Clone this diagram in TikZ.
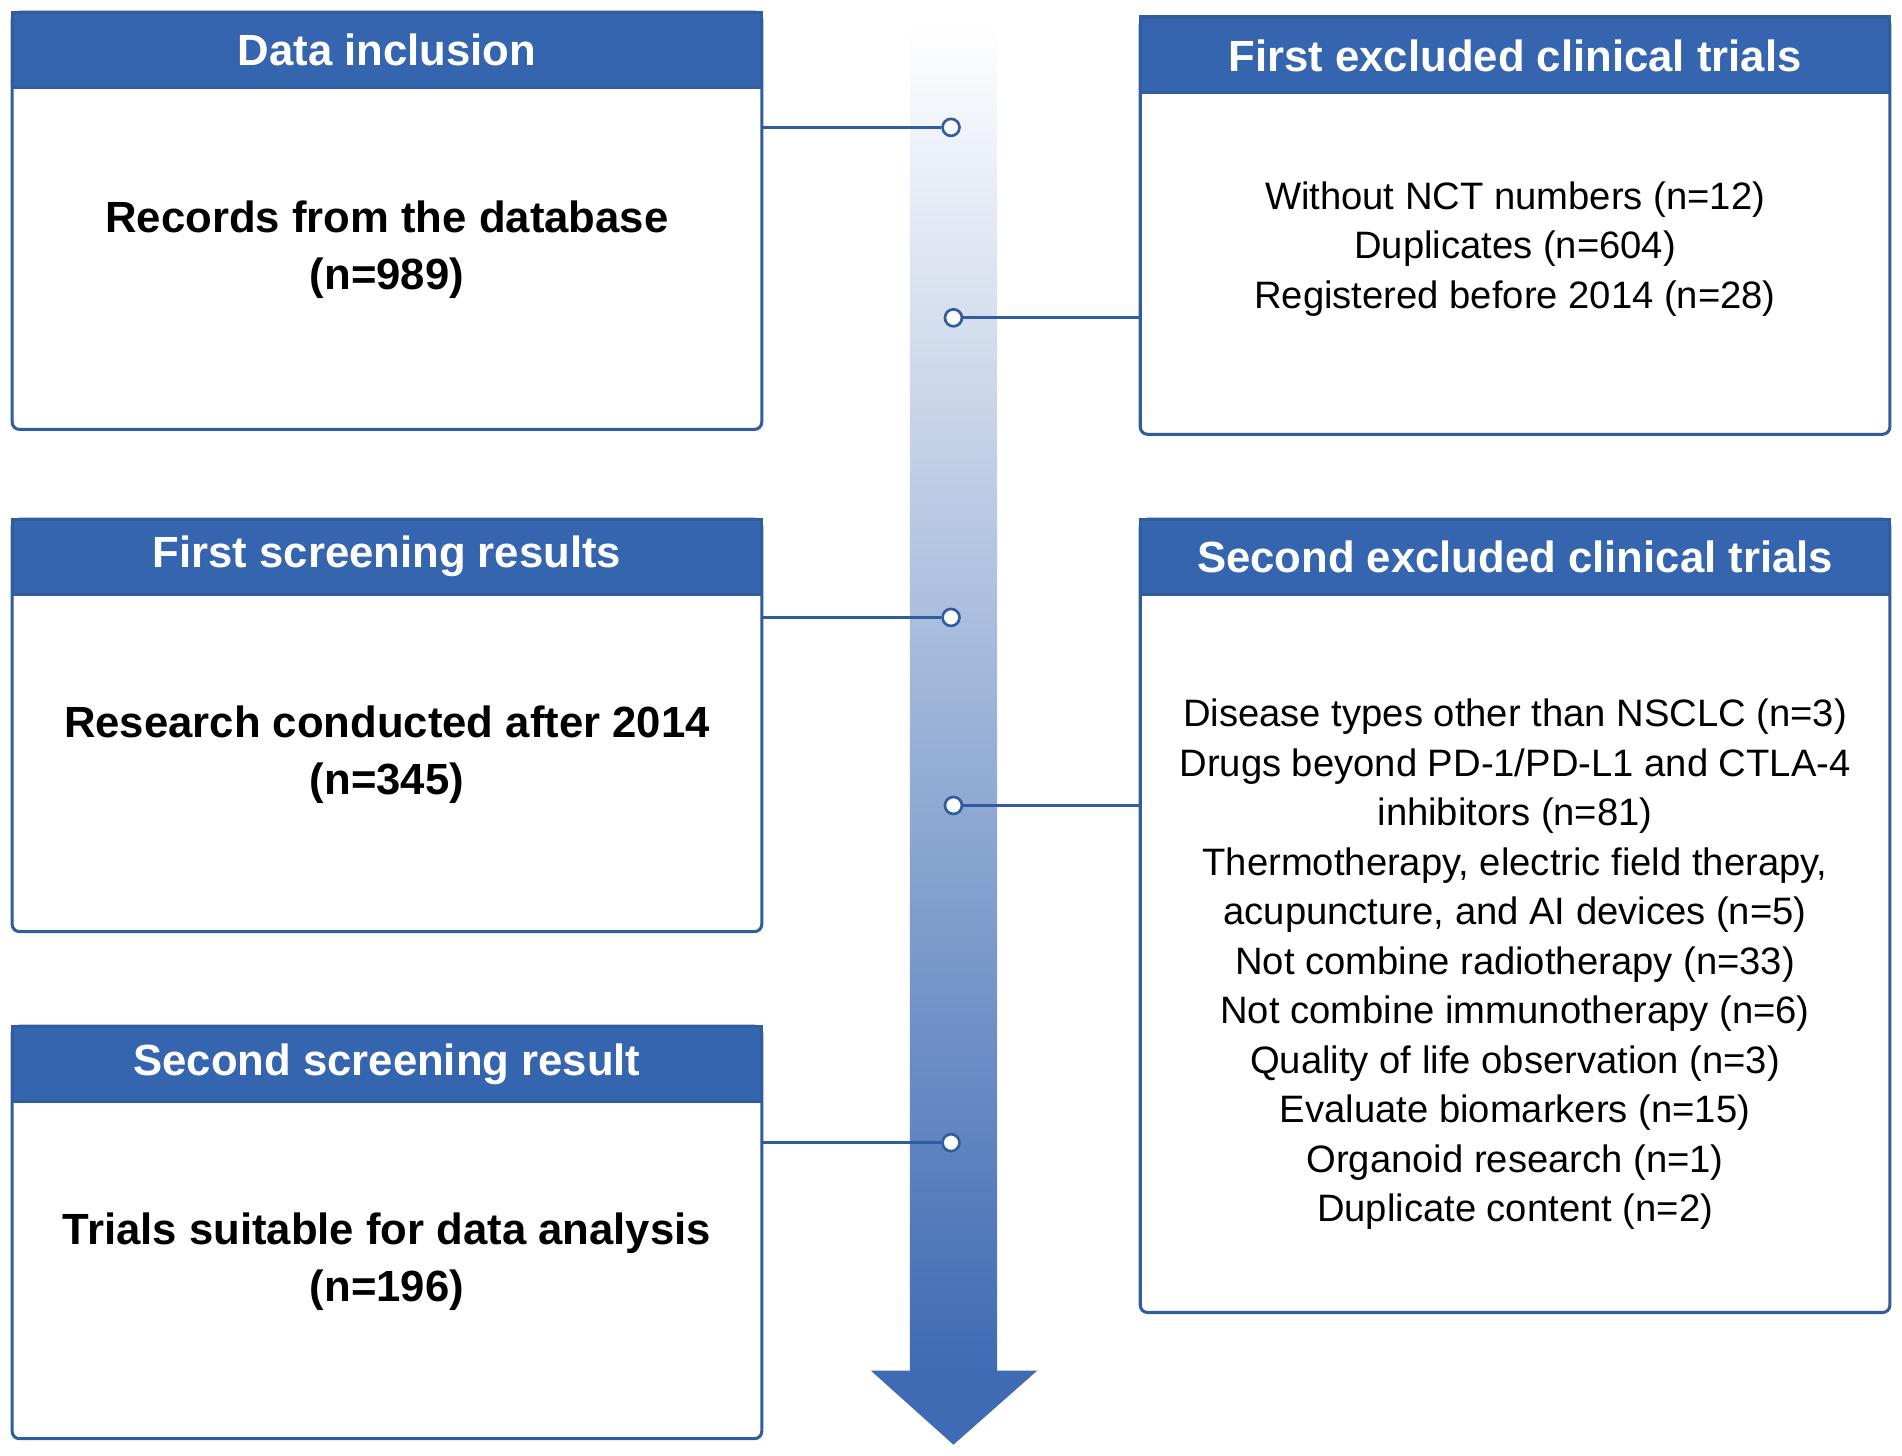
\documentclass[tikz,border=0pt]{standalone}
\usepackage{fontspec}
\setmainfont{Liberation Sans}
\begin{document}
\begin{tikzpicture}[x=1pt,y=-1pt,
  bx/.style={draw=boxblue,line width=2.5pt,rounded corners=6pt,fill=white},
  hd/.style={fill=hdblue,draw=boxblue,line width=2.5pt},
  hdt/.style={text=white,font=\fontsize{36}{40}\selectfont\bfseries},
  bt/.style={align=center,font=\fontsize{36}{47}\selectfont\bfseries},
  lt/.style={align=center,font=\fontsize{31.5}{40.8}\selectfont},
  ln/.style={draw=boxblue,line width=2.2pt},
  dot/.style={circle,draw=boxblue,line width=2.2pt,fill=white,minimum size=14pt,inner sep=0pt}]
\definecolor{boxblue}{HTML}{2F5D9E}
\definecolor{hdblue}{HTML}{3565AE}
\definecolor{arr}{HTML}{3E6BB3}
\useasboundingbox (0,0) rectangle (1568,1200);
% arrow
\shade[top color=white,bottom color=arr] (750,20) rectangle (822,1131);
\fill[arr] (718,1130) -- (855,1130) -- (786,1191) -- cycle;
% left boxes
\foreach \t/\b/\n in {10/354/a,428/768/b,846/1186/c}{
  \draw[bx] (10,\t) rectangle (628,\b);
  \fill[hd] (10,\t) rectangle (628,\t+62);
  \coordinate (\n) at (628,\t+95);
}
\foreach \t/\b/\n in {14/358/d,428/1082/e}{
  \draw[bx] (940,\t) rectangle (1558,\b);
  \fill[hd] (940,\t) rectangle (1558,\t+62);
}
\node[hdt] (h1) at (319,41) {Data inclusion};
\node[hdt] (h2) at (319,459) {First screening results};
\node[hdt] (h3) at (319,877) {Second screening result};
\node[hdt] (h4) at (1249,46) {First excluded clinical trials};
\node[hdt] (h5) at (1249,459) {Second excluded clinical trials};
\node[bt] (t1) at (319,206) {Records from the database\\(n=989)};
\node[bt] (t2) at (319,622) {Research conducted after 2014\\(n=345)};
\node[bt] (t3) at (319,1040) {Trials suitable for data analysis\\(n=196)};
\node[lt] (t4) at (1249,205) {Without NCT numbers (n=12)\\Duplicates (n=604)\\Registered before 2014 (n=28)};
\node[lt] (t5) at (1249,795) {Disease types other than NSCLC (n=3)\\Drugs beyond PD-1/PD-L1 and CTLA-4\\inhibitors (n=81)\\Thermotherapy, electric field therapy,\\acupuncture, and AI devices (n=5)\\Not combine radiotherapy (n=33)\\Not combine immunotherapy (n=6)\\Quality of life observation (n=3)\\Evaluate biomarkers (n=15)\\Organoid research (n=1)\\Duplicate content (n=2)};
% connectors
\coordinate (la) at (628,105); \node[dot] (ca) at (784,105) {};
\coordinate (lb) at (628,509); \node[dot] (cb) at (784,509) {};
\coordinate (lc) at (628,942); \node[dot] (cc) at (784,942) {};
\coordinate (rd) at (940,262); \node[dot] (cd) at (786,262) {};
\coordinate (re) at (940,664); \node[dot] (ce) at (786,664) {};
\draw[ln] (la) -- (ca); \draw[ln] (lb) -- (cb); \draw[ln] (lc) -- (cc);
\draw[ln] (rd) -- (cd); \draw[ln] (re) -- (ce);
\end{tikzpicture}
\end{document}
